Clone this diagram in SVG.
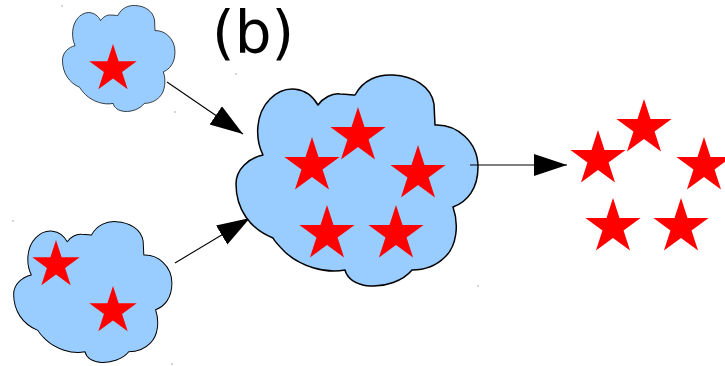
<svg xmlns="http://www.w3.org/2000/svg" xmlns:xlink="http://www.w3.org/1999/xlink" width="725" height="366" viewBox="0 0 725 366">
<style>
.cloud{fill:#99ccff;stroke:#000;stroke-width:1.5;vector-effect:non-scaling-stroke;stroke-linejoin:round}
.star{fill:#ff0000}
.conn{stroke:#000;stroke-width:1.1;fill:none}
.dot{fill:#555}
.lbl{font-family:"DejaVu Sans",sans-serif;font-size:58px;fill:#000}
</style>
<defs>
<path id="cloudShape" d="M120,21 C128,6 143,0 158,1 C178,2 196,12 199,30 L200,51 C222,50 243,68 243,93 C243,115 232,128 218,133 C224,150 222,172 210,183 C202,191 190,196 177,196 C168,207 150,213 135,212 C120,211 112,204 110,196 C90,200 65,192 50,178 C45,173 40,168 38,164 C15,155 1,135 1,110 C1,95 14,84 28,81 C20,65 20,40 35,25 C50,10 72,12 83,31 C88,24 97,19 105,20 C112,20 117,21 120,21 Z"/>
<polygon id="star" points="0,-29 6.51,-8.96 27.58,-8.96 10.54,3.42 17.05,23.46 0,11.08 -17.05,23.46 -10.54,3.42 -27.58,-8.96 -6.51,-8.96"/>
<marker id="head" markerUnits="userSpaceOnUse" markerWidth="34" markerHeight="24" refX="33" refY="11" orient="auto">
<path d="M0,0 L33,11 L0,22 Z" fill="#000"/>
</marker>
</defs>

<g id="connectors">
<line class="conn" x1="167" y1="82" x2="243" y2="134" marker-end="url(#head)"/>
<line class="conn" x1="175" y1="263" x2="250" y2="218" marker-end="url(#head)"/>
</g>

<g id="cloud-top">
<use href="#cloudShape" class="cloud" transform="translate(62,5) scale(0.465,0.502)"/>
<use href="#star" class="star" transform="translate(113,69) scale(0.86)"/>
</g>

<g id="cloud-bottom">
<use href="#cloudShape" class="cloud" transform="translate(13,221) scale(0.654,0.667)"/>
<use href="#star" class="star" transform="translate(56,265) scale(0.86)"/>
<use href="#star" class="star" transform="translate(113,311) scale(0.86)"/>
</g>

<g id="cloud-big">
<use href="#cloudShape" class="cloud" transform="translate(235,74)"/>
<use href="#star" class="star" x="358" y="136"/>
<use href="#star" class="star" x="312" y="166"/>
<use href="#star" class="star" x="418" y="174"/>
<use href="#star" class="star" x="327" y="234"/>
<use href="#star" class="star" x="396" y="234"/>
</g>

<g id="connector-out">
<line class="conn" x1="470" y1="165" x2="567" y2="165" marker-end="url(#head)"/>
</g>

<g id="stars-free">
<use href="#star" class="star" x="644" y="128"/>
<use href="#star" class="star" x="598" y="159"/>
<use href="#star" class="star" x="704" y="166"/>
<use href="#star" class="star" x="613" y="227"/>
<use href="#star" class="star" x="681" y="227"/>
</g>

<g id="label">
<text class="lbl" x="212" y="53">(b)</text>
</g>

<g id="marks">
<rect class="dot" x="61.5" y="5.5" width="1" height="1"/>
<rect class="dot" x="174.5" y="111.5" width="1" height="1"/>
<rect class="dot" x="12.5" y="220.5" width="1" height="1"/>
<rect class="dot" x="171.5" y="363.5" width="1" height="1"/>
<rect class="dot" x="235.5" y="73.5" width="1" height="1"/>
<rect class="dot" x="477.5" y="285.5" width="1" height="1"/>
</g>
</svg>
